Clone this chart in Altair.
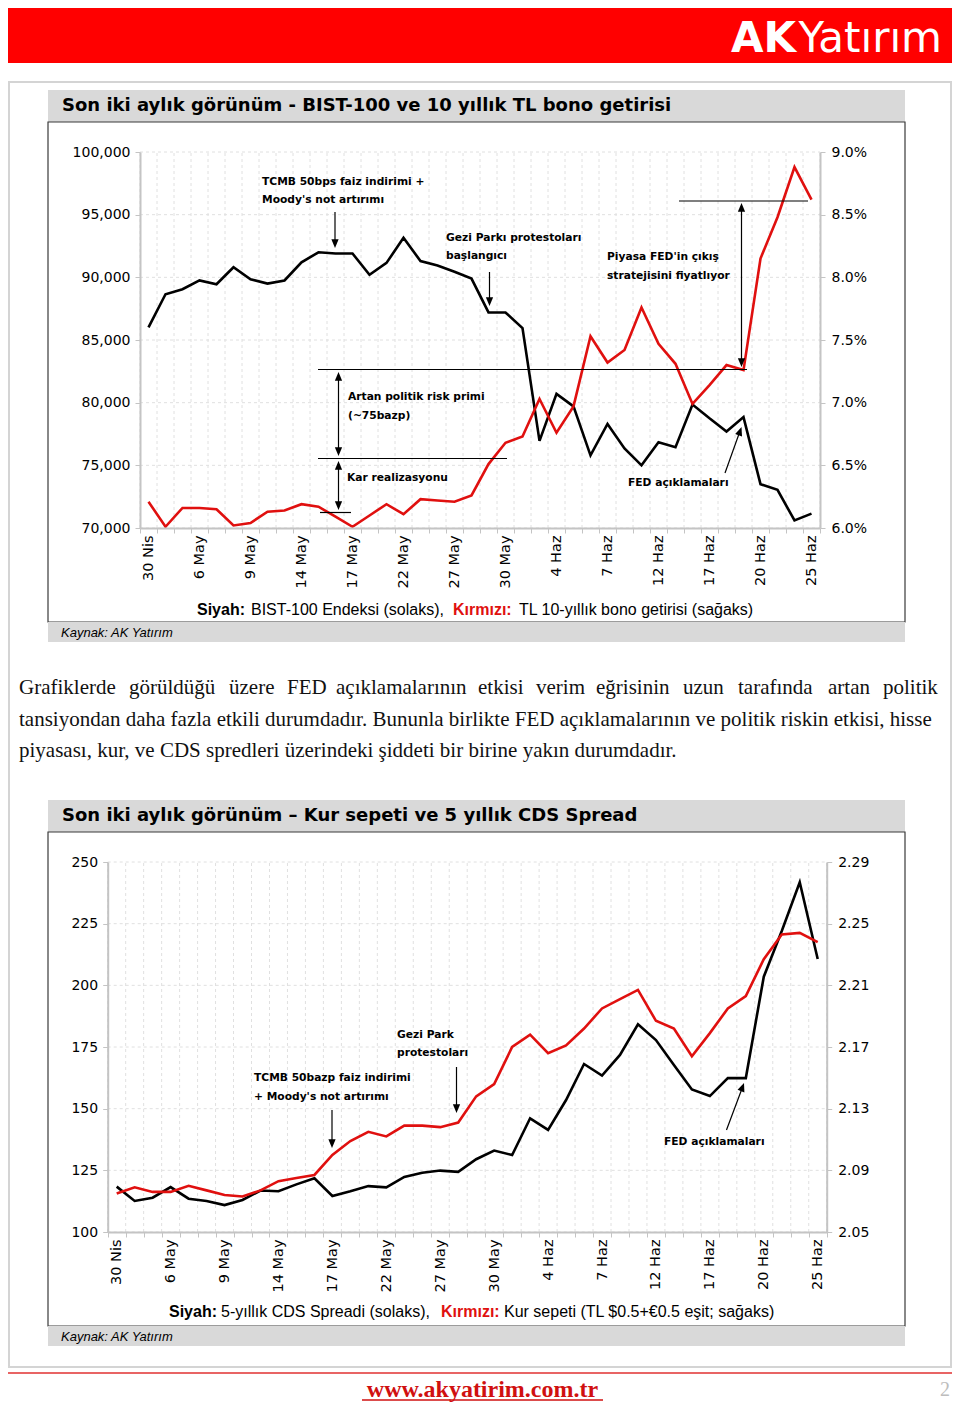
import altair as alt
import pandas as pd

# ---------------- data ----------------
tick_labels = ["30 Nis", "6 May", "9 May", "14 May", "17 May", "22 May", "27 May",
               "30 May", "4 Haz", "7 Haz", "12 Haz", "17 Haz", "20 Haz", "25 Haz"]
label_step = 3  # one label every 3 trading days

bist100 = [86000, 88650, 89050, 89750, 89450, 90800, 89850, 89500, 89750, 91200,
           92000, 91900, 91900, 90200, 91150, 93150, 91300, 90950, 90450, 89900,
           87200, 87200, 85950, 76950, 80700, 79700, 75800, 78300, 76350, 75000,
           76850, 76450, 79850, 78750, 77700, 78850, 73500, 73050, 70600, 71150]
bond10y = [6.21, 6.01, 6.16, 6.16, 6.15, 6.02, 6.04, 6.13, 6.14, 6.19,
           6.17, 6.09, 6.01, 6.10, 6.19, 6.11, 6.23, 6.22, 6.21, 6.26,
           6.51, 6.68, 6.73, 7.03, 6.76, 6.97, 7.53, 7.32, 7.42, 7.76,
           7.47, 7.31, 6.99, 7.14, 7.30, 7.26, 8.15, 8.48, 8.88, 8.62]
cds5y = [118.4, 112.6, 113.9, 118.2, 113.5, 112.6, 110.9, 113.0, 116.8, 116.5,
         119.3, 121.8, 114.6, 116.5, 118.6, 118.1, 122.3, 124.0, 124.9, 124.4,
         129.5, 133.0, 131.2, 146.1, 141.4, 153.5, 168.1, 163.4, 171.8, 184.2,
         177.8, 167.7, 157.8, 155.1, 162.4, 162.4, 203.5, 222.0, 241.8, 210.7]
basket = [2.075, 2.079, 2.076, 2.076, 2.080, 2.077, 2.074, 2.073, 2.077, 2.083,
          2.085, 2.087, 2.100, 2.109, 2.115, 2.112, 2.119, 2.119, 2.118, 2.121,
          2.138, 2.146, 2.170, 2.178, 2.166, 2.171, 2.182, 2.195, 2.201, 2.207,
          2.187, 2.182, 2.164, 2.179, 2.195, 2.203, 2.227, 2.243, 2.244, 2.238]

bist_ticks = list(range(70000, 100001, 5000))
bond_ticks = [6.0, 6.5, 7.0, 7.5, 8.0, 8.5, 9.0]
cds_ticks = [100, 125, 150, 175, 200, 225, 250]
basket_ticks = [2.05, 2.09, 2.13, 2.17, 2.21, 2.25, 2.29]

para_line1 = ["Grafiklerde", "görüldüğü", "üzere", "FED", "açıklamalarının", "etkisi",
              "verim", "eğrisinin", "uzun", "tarafında", "artan", "politik"]
para_line2 = "tansiyondan daha fazla etkili durumdadır. Bununla birlikte FED açıklamalarının ve politik riskin etkisi, hisse"
para_line3 = "piyasası, kur, ve CDS spredleri üzerindeki şiddeti bir birine yakın durumdadır."

# ---------------- layout helpers ----------------
W, H = 944, 1395
OX, OY = 8, 8
SANS = "DejaVu Sans"
ARIAL = "Liberation Sans"
SERIF = "Liberation Serif"
RED = "#e0100f"
GRAYBAR = "#d9d9d9"


def px(x):
    return x - OX


def py(y):
    return y - OY


one = pd.DataFrame({"k": [0]})


def rect(x1, y1, x2, y2, fill=None, stroke=None, sw=1.0):
    kw = {}
    if fill is not None:
        kw["fill"] = fill
    else:
        kw["fillOpacity"] = 0
    if stroke is not None:
        kw["stroke"] = stroke
        kw["strokeWidth"] = sw
    return alt.Chart(one).mark_rect(**kw).encode(
        x=alt.value(px(x1)), x2=alt.value(px(x2)), y=alt.value(py(y1)), y2=alt.value(py(y2)))


def rule(x1, y1, x2, y2, color="black", sw=1.2):
    return alt.Chart(one).mark_rule(color=color, strokeWidth=sw).encode(
        x=alt.value(px(x1)), x2=alt.value(px(x2)), y=alt.value(py(y1)), y2=alt.value(py(y2)))


def text(x, y, s, size=12, weight="normal", color="black", align="left", font=SANS,
         style="normal", baseline="middle"):
    return alt.Chart(one).mark_text(text=s, fontSize=size, fontWeight=weight, color=color,
                                    align=align, font=font, fontStyle=style,
                                    baseline=baseline).encode(
        x=alt.value(px(x)), y=alt.value(py(y)))


HEAD = "M-0.42,-1L0.42,-1L0,0Z"  # down-pointing arrow head, tip at origin


def head(x, y, angle=0):
    return alt.Chart(one).mark_point(shape=HEAD, filled=True, color="black", opacity=1,
                                     size=300, angle=angle, strokeWidth=0).encode(
        x=alt.value(px(x)), y=alt.value(py(y)))


def varrow(x, y1, y2, both=False):
    down = y2 > y1
    layers = [rule(x, y1, x, y2 - (6 if down else -6))]
    layers.append(head(x, y2, 0 if down else 180))
    if both:
        layers[0] = rule(x, y1 + (6 if down else -6), x, y2 - (6 if down else -6))
        layers.append(head(x, y1, 180 if down else 0))
    return layers


label_expr = "[" + ",".join("'%s'" % s for s in tick_labels) + "][round(datum.value/%d)]" % label_step
n = len(bist100)
idx = list(range(n))
centers = list(range(0, n, label_step))
bounds = [i - 0.5 for i in range(n + 1)]

AXCOL = "#c4c4c4"


def dual_chart(df, left_col, right_col, xr, yr, ldom, rdom, lticks, rticks, lfmt, rexpr):
    X = alt.Scale(domain=[-0.5, n - 0.5], range=[px(xr[0]), px(xr[1])], nice=False, zero=False)
    YL = alt.Scale(domain=ldom, range=[py(yr[0]), py(yr[1])], nice=False, zero=False)
    YR = alt.Scale(domain=rdom, range=[py(yr[0]), py(yr[1])], nice=False, zero=False)
    xoff = py(yr[0]) - H
    grid_v = pd.DataFrame({"b": bounds})
    grid_h = pd.DataFrame({"v": lticks})
    lay = []
    # vertical dotted grid + boundary ticks
    lay.append(alt.Chart(grid_v).mark_rule(color="#e0e0e0", strokeWidth=1, strokeDash=[3, 3]).encode(
        x=alt.X("b:Q", scale=X, axis=alt.Axis(orient="bottom", offset=xoff, values=bounds,
                                               labels=False, domain=False, ticks=True, tickSize=5,
                                               tickColor=AXCOL, tickWidth=1, grid=False,
                                               title=None, zindex=1)),
        y=alt.value(py(yr[0])), y2=alt.value(py(yr[1]))))
    # horizontal dotted grid
    lay.append(alt.Chart(grid_h).mark_rule(color="#e0e0e0", strokeWidth=1, strokeDash=[3, 3]).encode(
        y=alt.Y("v:Q", scale=YL, axis=None),
        x=alt.value(px(xr[0])), x2=alt.value(px(xr[1]))))
    # black series (left axis)
    lay.append(alt.Chart(df).mark_line(color="black", strokeWidth=2.6).encode(
        x=alt.X("i:Q", scale=X, axis=alt.Axis(orient="bottom", offset=xoff, values=centers,
                                               labelExpr=label_expr, labelAngle=270, labelFont=SANS,
                                               labelFontSize=14.5, labelColor="black", labelPadding=7,
                                               labelFlush=False, labelOverlap=False, ticks=False,
                                               domainColor=AXCOL, domainWidth=2, grid=False,
                                               title=None, zindex=1)),
        y=alt.Y(left_col + ":Q", scale=YL,
                axis=alt.Axis(orient="left", offset=-px(xr[0]), values=lticks, format=lfmt,
                              labelFont=SANS, labelFontSize=14, labelColor="black", labelPadding=5,
                              tickSize=5, tickColor=AXCOL, domainColor=AXCOL, domainWidth=2,
                              grid=False, title=None, zindex=1))))
    # red series (right axis)
    lay.append(alt.Chart(df).mark_line(color=RED, strokeWidth=2.6).encode(
        x=alt.X("i:Q", scale=X, axis=None),
        y=alt.Y(right_col + ":Q", scale=YR,
                axis=alt.Axis(orient="right", offset=px(xr[1]) - W, values=rticks, labelExpr=rexpr,
                              labelFont=SANS, labelFontSize=14, labelColor="black", labelPadding=6,
                              tickSize=5, tickColor=AXCOL, domainColor=AXCOL, domainWidth=2,
                              grid=False, title=None, zindex=1))))
    return lay


df1 = pd.DataFrame({"i": idx, "bist": bist100, "bond": bond10y})
df2 = pd.DataFrame({"i": idx, "cds": cds5y, "kur": basket})

layers = []

# ---------------- page frame & header ----------------
layers.append(rect(8, 8, 952, 63, fill="#ff0000"))
layers.append(text(796, 39, "AK", size=42, weight="bold", color="white", align="right",
                   font=SANS))
layers.append(text(942, 39, "Yatırım", size=42, color="white", align="right", font=SANS))
layers.append(rect(9, 82, 951, 1367, stroke="#d4d4d4", sw=2))
layers.append(rule(8, 1373, 952, 1373, color="#e03030", sw=1.5))

TF = 18
LF = 16
# ---------------- panel 1 ----------------
layers.append(rect(48, 90, 905, 122, fill=GRAYBAR))
layers.append(rect(48, 122, 905, 622, fill="white", stroke="#3a3a3a", sw=1.2))
layers.append(rect(48, 622, 905, 642, fill=GRAYBAR))
layers.append(text(62, 106, "Son iki aylık görünüm - BIST-100 ve 10 yıllık TL bono getirisi",
                   size=TF, weight="bold", font=SANS))
layers.append(text(61, 633, "Kaynak: AK Yatırım", size=13, style="italic", font=ARIAL))
layers.append(text(197, 610, "Siyah:", size=LF, weight="bold", font=ARIAL))
layers.append(text(251, 610, "BIST-100 Endeksi (solaks),", size=LF, font=ARIAL))
layers.append(text(453, 610, "Kırmızı:", size=LF, weight="bold", color=RED, font=ARIAL))
layers.append(text(519, 610, "TL 10-yıllık bono getirisi (sağaks)", size=LF, font=ARIAL))

layers += dual_chart(df1, "bist", "bond", (140, 820), (528, 152), [70000, 100000], [6.0, 9.0],
                     bist_ticks, bond_ticks, ",.0f", "format(datum.value,'.1f')+'%'")

# annotations panel 1
AF = 10.7
layers.append(text(262, 182, "TCMB 50bps faiz indirimi +", size=AF, weight="bold"))
layers.append(text(262, 200, "Moody's not artırımı", size=AF, weight="bold"))
layers += varrow(335, 212, 248)
layers.append(text(446, 238, "Gezi Parkı protestoları", size=AF, weight="bold"))
layers.append(text(446, 256, "başlangıcı", size=AF, weight="bold"))
layers += varrow(489.5, 272, 306)
layers.append(rule(318, 369.5, 747, 369.5))
layers.append(rule(318, 458.5, 507, 458.5))
layers.append(rule(320, 512.5, 351, 512.5))
layers += varrow(338.5, 372, 456, both=True)
layers += varrow(338.5, 461, 510, both=True)
layers.append(text(348, 397, "Artan politik risk primi", size=AF, weight="bold"))
layers.append(text(348, 415.5, "(~75bazp)", size=AF, weight="bold"))
layers.append(text(347, 478, "Kar realizasyonu", size=AF, weight="bold"))
layers.append(rule(679, 201, 808, 201))
layers += varrow(741.5, 203, 367, both=True)
layers.append(text(607, 257, "Piyasa FED'in çıkış", size=AF, weight="bold"))
layers.append(text(607, 275.5, "stratejisini fiyatlıyor", size=AF, weight="bold"))
layers.append(text(628, 483, "FED açıklamaları", size=AF, weight="bold"))
layers.append(rule(725, 473, 739.5, 432.5))
layers.append(head(741.5, 427, 199.7))

# ---------------- paragraph ----------------
PF = 21
l1x = [19, 129, 229, 287, 336, 478, 536, 596, 683, 738, 828, 883]
for w, x in zip(para_line1, l1x):
    layers.append(text(x, 688, w, size=PF, font=SERIF, color="#111"))
layers.append(text(19, 719.5, para_line2, size=PF, font=SERIF, color="#111"))
layers.append(text(19, 751, para_line3, size=PF, font=SERIF, color="#111"))

# ---------------- panel 2 ----------------
layers.append(rect(48, 800, 905, 832, fill=GRAYBAR))
layers.append(rect(48, 832, 905, 1326, fill="white", stroke="#3a3a3a", sw=1.2))
layers.append(rect(48, 1326, 905, 1346, fill=GRAYBAR))
layers.append(text(62, 816, "Son iki aylık görünüm – Kur sepeti ve 5 yıllık CDS Spread",
                   size=TF, weight="bold", font=SANS))
layers.append(text(61, 1337, "Kaynak: AK Yatırım", size=13, style="italic", font=ARIAL))
layers.append(text(169, 1312, "Siyah:", size=LF, weight="bold", font=ARIAL))
layers.append(text(221, 1312, "5-yıllık CDS Spreadi (solaks),", size=LF, font=ARIAL))
layers.append(text(441, 1312, "Kırmızı:", size=LF, weight="bold", color=RED, font=ARIAL))
layers.append(text(504, 1312, "Kur sepeti (TL $0.5+€0.5 eşit; sağaks)", size=LF, font=ARIAL))

layers += dual_chart(df2, "cds", "kur", (107.7, 826.7), (1232, 862), [100, 250], [2.05, 2.29],
                     cds_ticks, basket_ticks, "d", "format(datum.value,'.2f')")

layers.append(text(254, 1078, "TCMB 50bazp faiz indirimi", size=AF, weight="bold"))
layers.append(text(254, 1096.5, "+ Moody's not artırımı", size=AF, weight="bold"))
layers += varrow(332, 1110, 1148)
layers.append(text(397, 1035, "Gezi Park", size=AF, weight="bold"))
layers.append(text(397, 1053, "protestoları", size=AF, weight="bold"))
layers += varrow(456.5, 1067, 1113)
layers.append(text(664, 1141.5, "FED açıklamaları", size=AF, weight="bold"))
layers.append(rule(726.5, 1130, 742, 1088.5))
layers.append(head(744, 1083, 200.3))

# ---------------- footer ----------------
layers.append(text(482.5, 1390, "www.akyatirim.com.tr", size=24, weight="bold", color="#d01010",
                   align="center", font=SERIF))
layers.append(rule(362, 1400, 603, 1400, color="#d01010", sw=1.3))
layers.append(text(945, 1390, "2", size=20, color="#bdbdbd", align="center", font=SERIF))

chart = alt.layer(*layers).properties(
    width=W, height=H, padding=0, background="white",
    autosize=alt.AutoSizeParams(type="none"),
).resolve_scale(x="independent", y="independent").configure_view(strokeWidth=0)

chart.save("out.html", embed_options={"renderer": "svg", "actions": False})
